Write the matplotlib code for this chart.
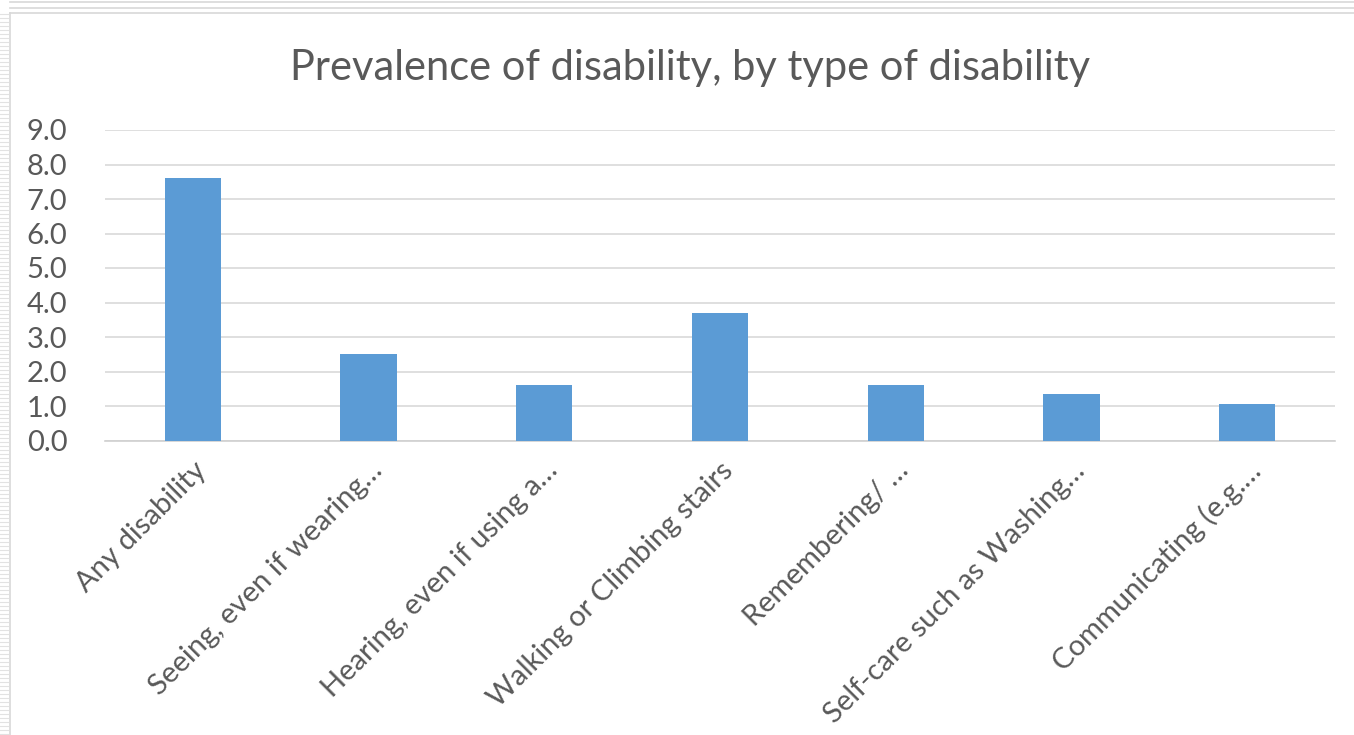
import matplotlib
matplotlib.use("Agg")
import matplotlib.pyplot as plt
from matplotlib.lines import Line2D
import numpy as np

categories = ["Any disability", "Seeing, even if wearing…", "Hearing, even if using a…",
              "Walking or Climbing stairs", "Remembering/ …", "Self-care such as Washing…",
              "Communicating (e.g.…"]
values = [7.6, 2.5, 1.6, 3.7, 1.6, 1.35, 1.05]
yticks = [0, 1, 2, 3, 4, 5, 6, 7, 8, 9]
title = "Prevalence of disability, by type of disability"

plt.rcParams['font.family'] = ['Lato', 'DejaVu Sans']
txt = "#595959"

fig = plt.figure(figsize=(13.54, 7.35), dpi=100)
ax = fig.add_axes([105/1354, 1-440.5/735, 1230/1354, (440.5-130)/735])

x = np.arange(len(categories))
ax.bar(x, values, width=0.32, color="#5B9BD5", zorder=3)
ax.set_xlim(-0.5, len(categories)-0.5)
ax.set_ylim(0, 9)
ax.set_yticks(yticks)
ax.set_yticklabels([f"{v:.1f}" for v in yticks], fontsize=21, color=txt)
ax.yaxis.grid(True, color="#D9D9D9", linewidth=1.2, zorder=0)
ax.set_axisbelow(True)
ax.tick_params(axis='both', length=0)
ax.tick_params(axis='y', pad=27)
for s in ["top", "right", "left"]:
    ax.spines[s].set_visible(False)
ax.spines["bottom"].set_color("#D0D0D0")
ax.spines["bottom"].set_linewidth(1.2)
ax.set_xticks(x)
ax.set_xticklabels(categories, rotation=45, ha="right", rotation_mode="anchor",
                   fontsize=21, color=txt)
ax.tick_params(axis='x', pad=12)

fig.text(690/1354, 1-68/735, title, ha="center", va="center", fontsize=30, color=txt)

# screenshot frame decorations
W, H = 1354, 735
for yy in [2, 8, 13]:
    fig.add_artist(Line2D([10/W, 1], [1-yy/H, 1-yy/H], color="#D8D8D8", lw=1.2,
                          transform=fig.transFigure))
fig.add_artist(Line2D([10/W, 10/W], [0, 1-13/H], color="#D8D8D8", lw=1.2,
                      transform=fig.transFigure))
for yy in range(14, H, 4):
    fig.add_artist(Line2D([0, 8/W], [1-yy/H, 1-yy/H], color="#E2E2E2", lw=0.8,
                          transform=fig.transFigure))

fig.savefig("out.png", dpi=100)
